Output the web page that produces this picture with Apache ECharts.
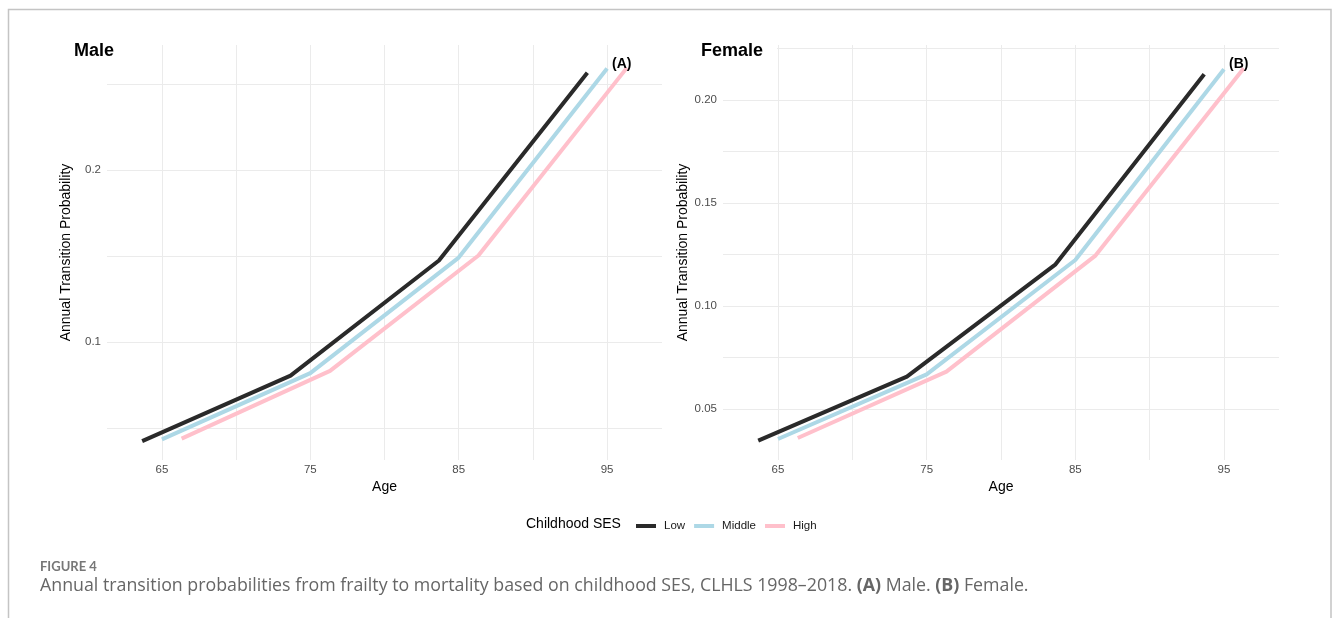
<!DOCTYPE html>
<html>
<head>
<meta charset="utf-8">
<script src="https://cdn.jsdelivr.net/npm/echarts@6/dist/echarts.min.js"></script>
<style>
  html, body { margin: 0; padding: 0; background: #ffffff; }
  #chart { width: 1333px; height: 618px; }
</style>
</head>
<body>
<div id="chart"></div>
<script>
// Ages at which transition probabilities were estimated
const ages = [65, 75, 85, 95];

// Childhood SES groups and their horizontal dodge (in years) so lines do not overlap
const sesGroups = ['Low', 'Middle', 'High'];
const sesDodge = [-1.33, 0, 1.33];
const sesColors = ['#2a2a2a', '#add8e6', '#ffc0cb'];

// Annual transition probability, frailty -> death, male
const maleLow    = [0.0425, 0.0806, 0.1475, 0.2566];
const maleMiddle = [0.0435, 0.0820, 0.1492, 0.2591];
const maleHigh   = [0.0439, 0.0833, 0.1504, 0.2595];

// Annual transition probability, frailty -> death, female
const femaleLow    = [0.0346, 0.0657, 0.1202, 0.2125];
const femaleMiddle = [0.0354, 0.0668, 0.1223, 0.2149];
const femaleHigh   = [0.0359, 0.0681, 0.1243, 0.2154];

// Axis ticks and grid positions
const xTickLabels = [65, 75, 85, 95];
const xGridValues = [65, 70, 75, 80, 85, 90, 95];
const maleYLabels = [0.1, 0.2];
const maleYGrid = [0.05, 0.1, 0.15, 0.2, 0.25];
const femaleYLabels = [0.05, 0.10, 0.15, 0.20];
const femaleYGrid = [0.05, 0.075, 0.1, 0.125, 0.15, 0.175, 0.2, 0.225];

const FONT = 'Liberation Sans, Arial, sans-serif';
const CAPTION_FONT = 'Open Sans, sans-serif';
const GRID_COLOR = '#ebebeb';
const TICK_COLOR = '#4d4d4d';

function makeXAxis(gridIndex) {
  return {
    type: 'value', gridIndex: gridIndex, min: 61.3, max: 98.7,
    axisLine: { show: false },
    axisTick: { show: false, customValues: xGridValues },
    axisLabel: { customValues: xTickLabels, color: TICK_COLOR, fontSize: 11.5, margin: 4, fontFamily: FONT },
    splitLine: { show: true, lineStyle: { color: GRID_COLOR, width: 1 } }
  };
}

function makeYAxis(gridIndex, min, max, labels, grid, digits) {
  return {
    type: 'value', gridIndex: gridIndex, min: min, max: max,
    axisLine: { show: false },
    axisTick: { show: false, customValues: grid },
    axisLabel: {
      customValues: labels, color: TICK_COLOR, fontSize: 11.5, margin: 6, fontFamily: FONT,
      formatter: function (v) { return v.toFixed(digits); }
    },
    splitLine: { show: true, lineStyle: { color: GRID_COLOR, width: 1 } }
  };
}

function makeSeries(panel, groupIndex, values) {
  return {
    type: 'line',
    name: sesGroups[groupIndex],
    xAxisIndex: panel, yAxisIndex: panel,
    data: ages.map(function (a, i) { return [a + sesDodge[groupIndex], values[i]]; }),
    symbol: 'none', showSymbol: false, silent: true,
    itemStyle: { color: sesColors[groupIndex] },
    lineStyle: { color: sesColors[groupIndex], width: 4, cap: 'butt', join: 'round' },
    z: 2 + groupIndex
  };
}

function label(text, x, y, opts) {
  const style = {
    text: text, fill: opts.fill || '#000000',
    font: (opts.weight || 'normal') + ' ' + opts.size + 'px ' + (opts.family || FONT),
    align: opts.align || 'left', verticalAlign: 'middle'
  };
  if (opts.rich) style.rich = opts.rich;
  if (opts.background) {
    style.backgroundColor = opts.background;
    style.padding = opts.padding;
  }
  return { type: 'text', x: x, y: y, z: 10, silent: true, rotation: opts.rotation || 0, style: style };
}

const chart = echarts.init(document.getElementById('chart'), null, { renderer: 'canvas' });

chart.setOption({
  animation: false,
  backgroundColor: '#ffffff',
  grid: [
    { left: 107, top: 45, width: 555, height: 415 },
    { left: 723, top: 45, width: 556, height: 415 }
  ],
  xAxis: [makeXAxis(0), makeXAxis(1)],
  yAxis: [
    makeYAxis(0, 0.0315, 0.2728, maleYLabels, maleYGrid, 1),
    makeYAxis(1, 0.0252, 0.2267, femaleYLabels, femaleYGrid, 2)
  ],
  legend: {
    data: sesGroups, left: 631, top: 515, icon: 'rect',
    itemWidth: 20, itemHeight: 4, itemGap: 9, selectedMode: false,
    textStyle: { fontSize: 11.5, color: '#1a1a1a', fontFamily: FONT, padding: [0, 0, 0, 3] }
  },
  series: [
    makeSeries(0, 0, maleLow), makeSeries(0, 1, maleMiddle), makeSeries(0, 2, maleHigh),
    makeSeries(1, 0, femaleLow), makeSeries(1, 1, femaleMiddle), makeSeries(1, 2, femaleHigh)
  ],
  graphic: [
    {
      type: 'rect', silent: true,
      shape: { x: 8.5, y: 9.5, width: 1322.5, height: 640 },
      style: { fill: 'none', stroke: '#c4c4c4', lineWidth: 1.5 }
    },
    label('Male', 74, 51, { size: 18, weight: 'bold' }),
    label('Female', 701, 51, { size: 18, weight: 'bold', background: '#ffffff', padding: [3, 14, 3, 0] }),
    label('(A)', 612, 64, { size: 14, weight: 'bold' }),
    label('(B)', 1229, 64, { size: 14, weight: 'bold' }),
    label('Annual Transition Probability', 66, 252.5, { size: 14, align: 'center', rotation: Math.PI / 2 }),
    label('Annual Transition Probability', 683, 252.5, { size: 14, align: 'center', rotation: Math.PI / 2 }),
    label('Age', 384.5, 487, { size: 14, align: 'center' }),
    label('Age', 1001, 487, { size: 14, align: 'center' }),
    label('Childhood SES', 526, 524, { size: 14 }),
    label('FIGURE 4', 40, 567, { size: 13, weight: 'bold', fill: '#777777', family: 'Lato, sans-serif' }),
    label('Annual transition probabilities from frailty to mortality based on childhood SES, CLHLS 1998\u20132018. {b|(A)} Male. {b|(B)} Female.',
      40, 586, {
        size: 17.8, fill: '#666666', family: CAPTION_FONT,
        rich: { b: { fontWeight: 'bold', fontSize: 17.8, fontFamily: CAPTION_FONT, fill: '#666666' } }
      })
  ]
});
</script>
</body>
</html>
